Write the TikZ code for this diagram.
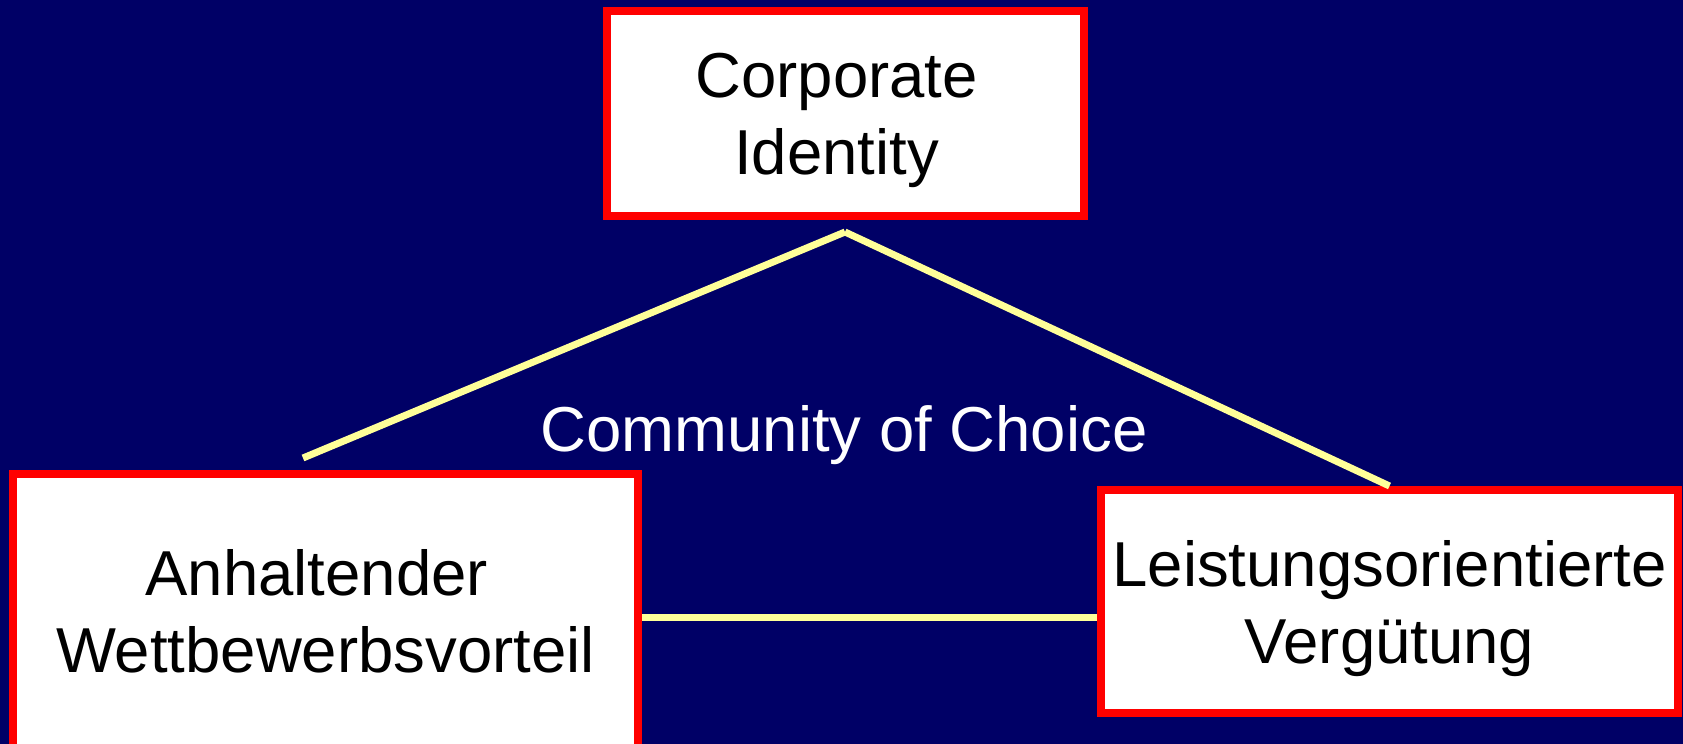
\documentclass[tikz,border=0pt]{standalone}
\usepackage{fontspec}
\setmainfont{Liberation Sans}
\usetikzlibrary{calc, positioning}
\definecolor{navy}{RGB}{0,0,102}
\definecolor{paleyellow}{RGB}{255,255,153}
\newcommand{\trailgap}{\kern8.8pt}

\begin{document}
\begin{tikzpicture}[x=0.5pt, y=-0.5pt,
        box/.style={draw=red, fill=white, line width=4pt, inner sep=0pt, align=center,
            text depth=0pt, font=\fontsize{31.75pt}{38.5pt}\selectfont},
        link/.style={draw=paleyellow, line width=3.5pt}]
        \fill[navy] (0,0) rectangle (1683,744);
        \useasboundingbox (0,0) rectangle (1683,744);
        \node[box, minimum width=238.5pt, minimum height=102.5pt] (ci) at (845.5,113.5) {Corporate\trailgap\\Identity\trailgap};
        \node[box, minimum width=312.5pt, minimum height=137pt] (aw) at (325.5,611) {Anhaltender\trailgap\\Wettbewerbsvorteil};
        \node[box, minimum width=288.5pt, minimum height=111.5pt] (vg) at (1389.5,601.5) {Leistungsorientierte\\Verg\"utung};
        \coordinate (apex) at (845,232);
        \coordinate (awtip) at (303,458);
        \draw[link] (apex) -- (awtip);
        \draw[link] (apex) -- (vg.north);
        \draw[link] ([yshift=-3pt]aw.east) -- ([yshift=-3pt]aw.east -| vg.west);
        \node[anchor=base, text=white, font=\fontsize{31.75pt}{38.5pt}\selectfont] (coc) at (844,451) {Community of Choice};
    \end{tikzpicture}
\end{document}
